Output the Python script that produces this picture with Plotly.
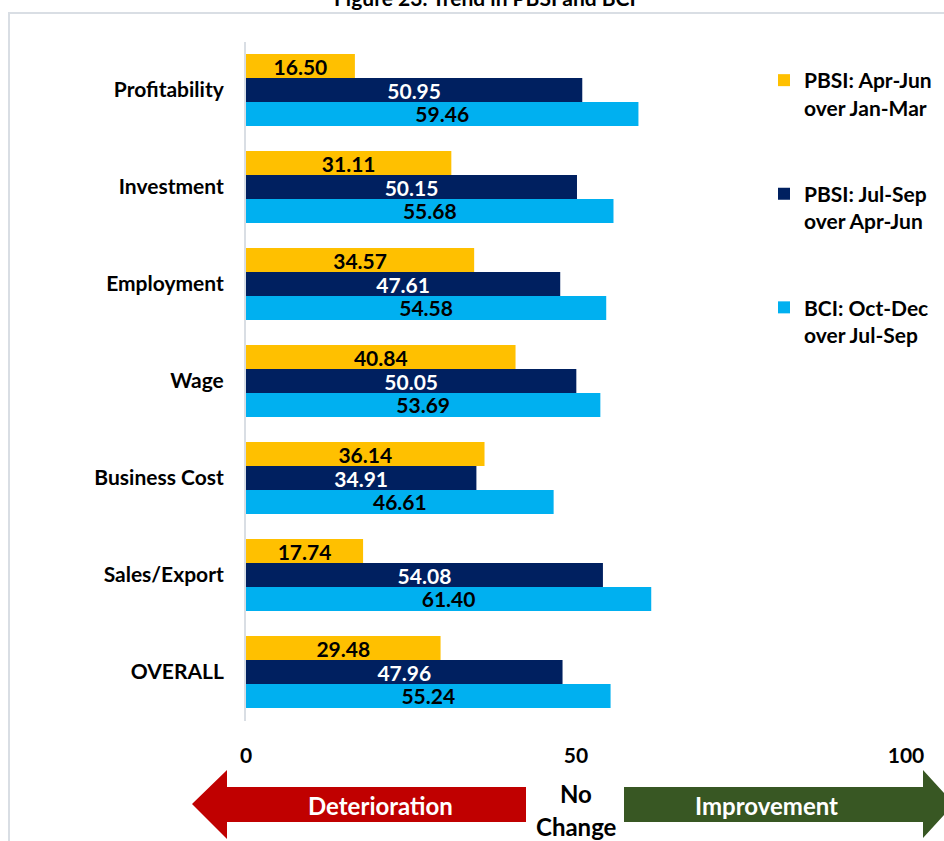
import plotly.graph_objects as go

# Survey components, listed top to bottom
categories = ["Profitability", "Investment", "Employment", "Wage",
              "Business Cost", "Sales/Export", "OVERALL"]

# Index values per period
pbsi_apr_jun = [16.50, 31.11, 34.57, 40.84, 36.14, 17.74, 29.48]
pbsi_jul_sep = [50.95, 50.15, 47.61, 50.05, 34.91, 54.08, 47.96]
bci_oct_dec = [59.46, 55.68, 54.58, 53.69, 46.61, 61.40, 55.24]

series_names = ["PBSI: Apr-Jun<br>over Jan-Mar",
                "PBSI: Jul-Sep<br>over Apr-Jun",
                "BCI: Oct-Dec<br>over Jul-Sep"]
series_values = [pbsi_apr_jun, pbsi_jul_sep, bci_oct_dec]
series_colors = ["#FFC000", "#002060", "#00B0F0"]
label_colors = ["#000000", "#FFFFFF", "#000000"]

x_ticks = [0, 50, 100]

W, H = 944, 841
FONT = "Lato"
SIZE = 21


def px(x):
    return x / W


def py(y):
    return 1 - y / H


fig = go.Figure()
for i, (name, vals, col, lcol) in enumerate(
        zip(series_names, series_values, series_colors, label_colors)):
    fig.add_trace(go.Bar(
        y=categories, x=vals, name=name, orientation="h",
        marker=dict(color=col, line=dict(width=0)),
        text=[f"{v:.2f}" for v in vals],
        textposition="inside", insidetextanchor="middle", textangle=0,
        textfont=dict(family=FONT, size=SIZE, color=lcol, weight=700),
        legendgroup=f"g{i}", hoverinfo="x+y",
    ))


def path(points):
    return "M " + " L ".join(f"{px(a)},{py(b)}" for a, b in points) + " Z"


shapes = [
    # chart frame
    dict(type="path", xref="paper", yref="paper",
         path=f"M {px(9)},{py(860)} L {px(9)},{py(13)} L {px(960)},{py(13)}",
         line=dict(color="#D9DEE4", width=2), fillcolor="rgba(0,0,0,0)"),
    # deterioration arrow
    dict(type="path", xref="paper", yref="paper",
         path=path([(192, 804), (227, 770), (227, 787), (526, 787),
                    (526, 822), (227, 822), (227, 839)]),
         fillcolor="#C00000", line=dict(width=0)),
    # improvement arrow
    dict(type="path", xref="paper", yref="paper",
         path=path([(624, 787), (923, 787), (923, 770), (954, 804),
                    (923, 838), (923, 822), (624, 822)]),
         fillcolor="#385723", line=dict(width=0)),
]

annotations = [
    dict(text="<b>Figure 23: Trend in PBSI and BCI</b>", xref="paper", yref="paper",
         x=px(485), y=py(12), xanchor="center", yanchor="bottom", showarrow=False,
         font=dict(family=FONT, size=SIZE, color="#000000")),
    dict(text="<b>Deterioration</b>", xref="paper", yref="paper",
         x=px(380), y=py(805), xanchor="center", yanchor="middle", showarrow=False,
         font=dict(family=FONT, size=24, color="#FFFFFF")),
    dict(text="<b>Improvement</b>", xref="paper", yref="paper",
         x=px(766), y=py(805), xanchor="center", yanchor="middle", showarrow=False,
         font=dict(family=FONT, size=24, color="#FFFFFF")),
    dict(text="<b>No</b>", xref="paper", yref="paper",
         x=px(576), y=py(793), xanchor="center", yanchor="middle", showarrow=False,
         font=dict(family=FONT, size=24, color="#000000")),
    dict(text="<b>Change</b>", xref="paper", yref="paper",
         x=px(576), y=py(826), xanchor="center", yanchor="middle", showarrow=False,
         font=dict(family=FONT, size=24, color="#000000")),
]

fig.update_layout(
    width=W, height=H,
    margin=dict(l=0, r=0, t=0, b=0, autoexpand=False),
    paper_bgcolor="white", plot_bgcolor="white",
    barmode="group", bargap=0.26, bargroupgap=0,
    uniformtext=dict(minsize=SIZE, mode="show"),
    font=dict(family=FONT, color="#000000"),
    showlegend=True,
    legend=dict(x=px(764), y=py(60), xanchor="left", yanchor="top",
                traceorder="grouped", tracegroupgap=56, valign="top",
                font=dict(family=FONT, size=SIZE, color="#000000", weight=700),
                bgcolor="rgba(0,0,0,0)", itemclick=False),
    xaxis=dict(domain=[px(246), px(906)], range=[0, 100],
               tickvals=x_ticks, ticktext=[str(t) for t in x_ticks],
               showgrid=False, zeroline=False, showline=False, ticks="",
               ticklabelstandoff=20, automargin=False,
               tickfont=dict(family=FONT, size=SIZE, color="#000000", weight=700)),
    yaxis=dict(domain=[py(720.5), py(41.5)], type="category",
               categoryorder="array", categoryarray=categories,
               autorange="reversed", showgrid=False, zeroline=False,
               showline=True, linecolor="#D9DEE4", linewidth=2, ticks="",
               ticklabelstandoff=16, automargin=False,
               tickfont=dict(family=FONT, size=SIZE, color="#000000", weight=700)),
    shapes=shapes, annotations=annotations,
)

fig.write_html("out.html")
